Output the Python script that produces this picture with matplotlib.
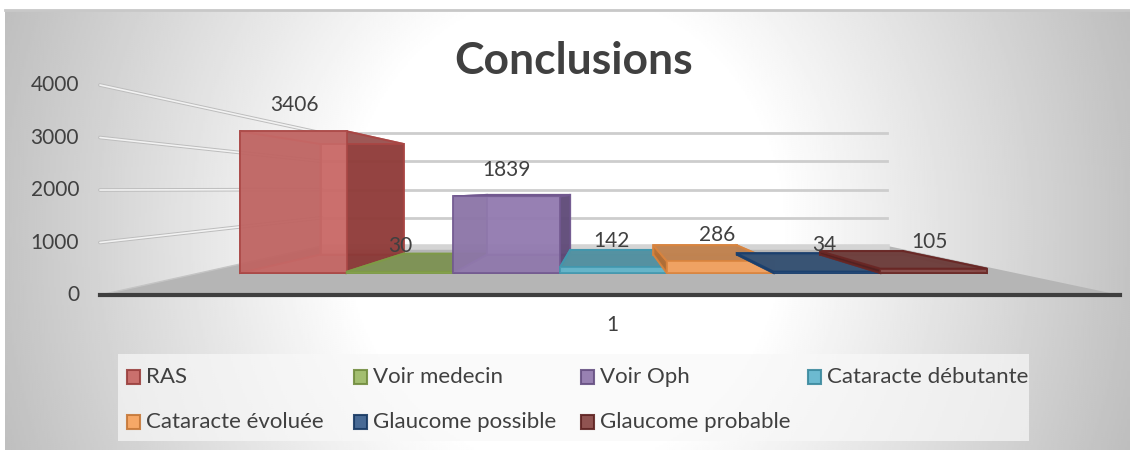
import numpy as np
import matplotlib
matplotlib.use('Agg')
import matplotlib.pyplot as plt
from matplotlib.patches import Polygon, Rectangle

plt.rcParams['font.family'] = ['Lato', 'DejaVu Sans']

# Chart data
series = ['RAS', 'Voir medecin', 'Voir Oph', 'Cataracte débutante',
          'Cataracte évoluée', 'Glaucome possible', 'Glaucome probable']
values = [3406, 30, 1839, 142, 286, 34, 105]
colors = ['#c0504d', '#8fb04f', '#8064a2', '#4bacc6', '#f79646', '#1f497d', '#772c2a']
y_ticks = [0, 1000, 2000, 3000, 4000]
category = '1'
title = 'Conclusions'

# Where the value labels sit (Excel moves them around)
label_pos = [(294, 105), (400, 246), (506, 170), (611, 241), (717, 235), (824, 245), (929, 242)]

# Perspective, in pixels of the bar front plane
vx, vy = 606, 189
base_y = 273
k = 0.0416          # pixels per unit on the bar front plane
bar_x0 = 240
bar_w = 106.7
s_bar_back = 0.78
s_floor_front = 1.262
s_wall = 0.678


def project(x, value, s):
    return vx + s * (x - vx), vy + s * (base_y - value * k - vy)


def shade(col, f):
    rgb = np.array(matplotlib.colors.to_rgb(col))
    if f > 1:
        return tuple(rgb + (1 - rgb) * (f - 1))
    return tuple(rgb * f)


def top_colour(col):
    # the top faces look washed with grey in the reference
    rgb = np.array(matplotlib.colors.to_rgb(col))
    return tuple(rgb * 0.62 + 0.15)


fig = plt.figure(figsize=(11.3, 4.5), dpi=100)
ax = fig.add_axes([0, 0, 1, 1])
ax.set_xlim(0, 1130)
ax.set_ylim(450, 0)
ax.axis('off')

# Radial background
xx, yy = np.meshgrid(np.linspace(5, 1130, 565), np.linspace(10, 450, 220))
d = np.sqrt(((xx - 565) / 565) ** 2 + ((yy - 230) / 620) ** 2)
t = np.clip((d - 0.38) / 0.72, 0, 1)
ax.imshow(1 - 0.27 * t, extent=(5, 1130, 450, 10), cmap='gray', vmin=0, vmax=1,
          aspect='auto', zorder=0)
ax.set_xlim(0, 1130)
ax.set_ylim(450, 0)
ax.plot([5, 1130], [10, 10], color='#c8c8c8', lw=2, zorder=1)

# Floor
fl, fr = 205, 1013
bl, br = 187, 1021
floor = [project(fl, 0, s_floor_front), project(fr, 0, s_floor_front),
         project(br, 0, s_wall), project(bl, 0, s_wall)]
ax.add_patch(Polygon(floor, closed=True, fc='#b5b5b5', ec='none', zorder=2))

# Gridlines: side wall then back wall
for v in y_ticks:
    p0 = project(fl, v, s_floor_front)
    p1 = project(bl, v, s_wall)
    p2 = project(br, v, s_wall)
    xs, ys = [p0[0], p1[0], p2[0]], [p0[1], p1[1], p2[1]]
    if v == 0:
        ax.plot(xs[:2], ys[:2], color='#c4c4c4', lw=1, zorder=2)
        ax.plot([p1[0], p2[0]], [p1[1] + 1.5, p2[1] + 1.5], color='#d4d4d4', lw=4, zorder=2)
        continue
    ax.plot(xs[:2], ys[:2], color='#bdbdbd', lw=2.6, zorder=2, solid_capstyle='round')
    ax.plot(xs[:2], ys[:2], color='#f2f2f2', lw=1.2, zorder=2, solid_capstyle='round')
    ax.plot(xs[1:], ys[1:], color='#cdcdcd', lw=2, zorder=2)

# Front edge of the floor
p0 = project(fl, 0, s_floor_front)
p1 = project(fr, 0, s_floor_front)
ax.plot([p0[0], p1[0]], [p0[1], p1[1]], color='#3f3f3f', lw=3, zorder=3)

# Bars, one 3D box per series
for i, (val, col) in enumerate(zip(values, colors)):
    x0 = bar_x0 + i * bar_w
    x1 = x0 + bar_w
    f00, f10 = project(x0, 0, 1), project(x1, 0, 1)
    f01, f11 = project(x0, val, 1), project(x1, val, 1)
    b00, b10 = project(x0, 0, s_bar_back), project(x1, 0, s_bar_back)
    b01, b11 = project(x0, val, s_bar_back), project(x1, val, s_bar_back)
    edge = shade(col, 0.88)
    faces = [([b00, b10, b11, b01], col, 0.8),
             ([f00, f10, b10, b00], shade(col, 0.85), 0.8),
             ([f00, f01, b01, b00], shade(col, 0.7), 0.8),
             ([f10, f11, b11, b10], shade(col, 0.7), 0.8),
             ([f01, f11, b11, b01], top_colour(col), 0.95),
             ([f00, f10, f11, f01], shade(col, 1.18), 0.8)]
    for j, (pts, fc, a) in enumerate(faces):
        ax.add_patch(Polygon(pts, closed=True, fc=fc, ec=edge, lw=1.4, alpha=a,
                             zorder=4 + i + j * 0.1))

# Value labels
for val, (lx, ly) in zip(values, label_pos):
    ax.text(lx, ly, str(val), ha='center', va='center', fontsize=15, color='#404040', zorder=20)

# Axis labels
for v in y_ticks:
    ty = project(fl, v, s_floor_front)[1]
    ax.text(79, ty, str(v), ha='right', va='center', fontsize=15, color='#404040', zorder=20)
ax.text(612, 325, category, ha='center', va='center', fontsize=15, color='#404040', zorder=20)
ax.text(574, 61, title, ha='center', va='center', fontsize=32, fontweight='bold',
        color='#404040', zorder=20)

# Legend
ax.add_patch(Rectangle((118, 354), 911, 87, fc='#f8f8f8', ec='none', alpha=0.7, zorder=10))
col_x = [127, 354, 581, 808]
row_y = [377, 422]
for i, (name, col) in enumerate(zip(series, colors)):
    lx = col_x[i % 4]
    ly = row_y[i // 4]
    ax.add_patch(Rectangle((lx, ly - 7), 13, 14, fc=shade(col, 1.1), ec=shade(col, 0.8), lw=1.5,
                           alpha=0.9, zorder=11))
    ax.text(lx + 19, ly, name, ha='left', va='center', fontsize=16, color='#404040', zorder=12)

fig.savefig('out.png', dpi=100)
